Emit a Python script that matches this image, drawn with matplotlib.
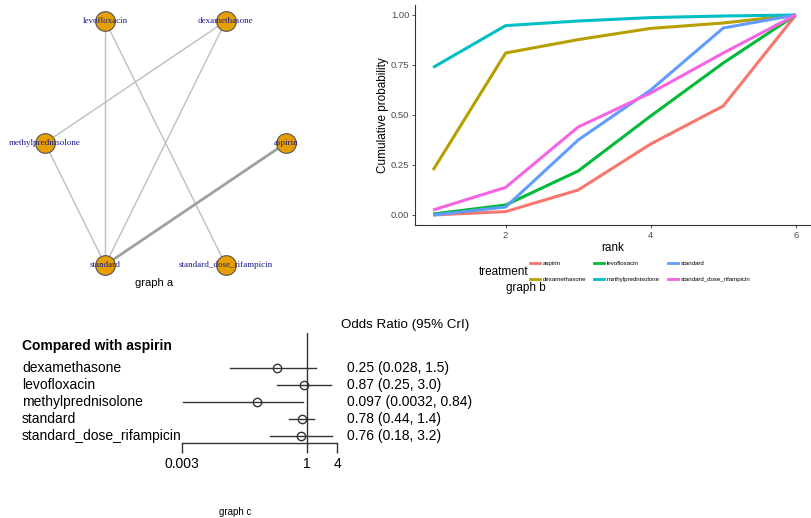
import numpy as np
import matplotlib
matplotlib.use('Agg')
import matplotlib.pyplot as plt
from matplotlib.lines import Line2D
from matplotlib.transforms import blended_transform_factory

plt.rcParams['font.family'] = ['Liberation Sans', 'DejaVu Sans']

# ---- データ ----
treatments = ['aspirin', 'dexamethasone', 'levofloxacin', 'methylprednisolone',
              'standard', 'standard_dose_rifampicin']
edges = [('levofloxacin', 'standard'), ('levofloxacin', 'standard_dose_rifampicin'),
         ('dexamethasone', 'methylprednisolone'), ('dexamethasone', 'standard'),
         ('methylprednisolone', 'standard'), ('aspirin', 'standard')]
edge_n = [1, 1, 1, 1, 1, 2]

ranks = [1, 2, 3, 4, 5, 6]
cum_aspirin = [0.00, 0.017, 0.125, 0.355, 0.545, 1.0]
cum_dexamethasone = [0.225, 0.81, 0.877, 0.933, 0.96, 1.0]
cum_levofloxacin = [0.005, 0.05, 0.22, 0.495, 0.76, 1.0]
cum_methylprednisolone = [0.738, 0.947, 0.97, 0.987, 0.995, 1.0]
cum_standard = [0.0, 0.04, 0.375, 0.625, 0.935, 1.0]
cum_sdr = [0.025, 0.138, 0.44, 0.61, 0.81, 1.0]
cum_probs = [cum_aspirin, cum_dexamethasone, cum_levofloxacin,
             cum_methylprednisolone, cum_standard, cum_sdr]
gg_colors = ['#F8766D', '#B79F00', '#00BA38', '#00BFC4', '#619CFF', '#F564E3']

comparators = ['dexamethasone', 'levofloxacin', 'methylprednisolone', 'standard',
               'standard_dose_rifampicin']
or_mean = [0.25, 0.87, 0.097, 0.78, 0.76]
or_low = [0.028, 0.25, 0.0032, 0.44, 0.18]
or_high = [1.5, 3.0, 0.84, 1.4, 3.2]
or_labels = ['0.25 (0.028, 1.5)', '0.87 (0.25, 3.0)', '0.097 (0.0032, 0.84)',
             '0.78 (0.44, 1.4)', '0.76 (0.18, 3.2)']
or_ticks = [0.003, 1, 4]
or_ticklabels = ['0.003', '1', '4']

W, H = 811, 518
fig = plt.figure(figsize=(W / 100, H / 100), dpi=100)


def fx(px):
    return px / W


def fy(py):
    return 1 - py / H


def axes_px(x0, y0, x1, y1):
    return fig.add_axes([fx(x0), fy(y1), fx(x1) - fx(x0), (y1 - y0) / H])


# ---- graph a : ネットワーク ----
ax_a = axes_px(45, 21, 286, 265)
ang = 2 * np.pi * np.arange(len(treatments)) / len(treatments)
px_ = np.cos(ang) / np.abs(np.cos(ang)).max()
py_ = np.sin(ang) / np.abs(np.sin(ang)).max()
pos = {t: (px_[i], py_[i]) for i, t in enumerate(treatments)}
for (a, b), n in zip(edges, edge_n):
    ax_a.plot([pos[a][0], pos[b][0]], [pos[a][1], pos[b][1]],
              color='#BEBEBE' if n == 1 else '#A0A0A0', lw=1.0 * n, zorder=1,
              clip_on=False)
ax_a.scatter(px_, py_, s=200, facecolor='#E69F00', edgecolor='#555555', lw=0.8,
             zorder=2, clip_on=False)
for t in treatments:
    ax_a.text(pos[t][0], pos[t][1], t, ha='center', va='center', color='#1a1a8c',
              fontsize=6.5, family=['Liberation Serif', 'DejaVu Serif'], zorder=3)
ax_a.set_xlim(-1, 1)
ax_a.set_ylim(-1, 1)
ax_a.axis('off')
fig.text(fx(154), fy(283), 'graph a', ha='center', va='center', fontsize=8)

# ---- graph b : 累積確率 ----
ax_b = axes_px(415, 5, 811, 225)
for t, y, c in zip(treatments, cum_probs, gg_colors):
    ax_b.plot(ranks, y, color=c, lw=2.2, label=t, solid_capstyle='butt')
ax_b.set_xlim(0.75, 6.21)
ax_b.set_ylim(-0.05, 1.05)
ax_b.set_xticks([2, 4, 6])
ax_b.set_yticks([0, 0.25, 0.5, 0.75, 1.0])
ax_b.set_yticklabels(['0.00', '0.25', '0.50', '0.75', '1.00'])
ax_b.tick_params(labelsize=6.8, labelcolor='#4D4D4D', length=2.5, width=0.6,
                 color='#333333', pad=1.5)
for s in ['top', 'right']:
    ax_b.spines[s].set_visible(False)
for s in ['left', 'bottom']:
    ax_b.spines[s].set_linewidth(0.8)
    ax_b.spines[s].set_color('#333333')
ax_b.set_xlabel('rank', fontsize=8.5, labelpad=2)
ax_b.set_ylabel('Cumulative probability', fontsize=8.5)
ax_b.yaxis.set_label_coords(-0.066, 0.5)
handles = [Line2D([], [], color=c, lw=2) for c in gg_colors]
fig.legend(handles, treatments, ncol=3, loc='upper left',
           bbox_to_anchor=(fx(530), fy(261)), frameon=False, fontsize=4.4,
           handlelength=1.6, handletextpad=0.5, columnspacing=1.3,
           labelspacing=1.7, borderpad=0, borderaxespad=0)
fig.text(fx(504), fy(272), 'treatment', ha='center', va='center', fontsize=8.5)
fig.text(fx(526), fy(288), 'graph b', ha='center', va='center', fontsize=8.5)

# ---- graph c : フォレストプロット ----
ax_c = axes_px(182, 333, 337, 443)
nrow = len(comparators)
rows = -np.arange(nrow)
for yv, m, lo, hi in zip(rows, or_mean, or_low, or_high):
    ax_c.plot([lo, hi], [yv, yv], color='#333333', lw=1.0, clip_on=False)
    ax_c.plot(m, yv, 'o', mfc='none', mec='#333333', ms=6, mew=1.0, clip_on=False)
ax_c.axvline(1, color='#333333', lw=1.0)
ax_c.set_xscale('log')
ax_c.set_xlim(or_ticks[0], or_ticks[-1])
ax_c.set_ylim(-4.41, 2.06)
ax_c.set_xticks(or_ticks)
ax_c.set_xticklabels(or_ticklabels)
ax_c.minorticks_off()
ax_c.tick_params(axis='x', labelsize=10, length=7, width=1.0, color='#333333', pad=3)
ax_c.set_yticks([])
for s in ['top', 'right', 'left']:
    ax_c.spines[s].set_visible(False)
ax_c.spines['bottom'].set_linewidth(1.0)
ax_c.spines['bottom'].set_color('#333333')

tr = blended_transform_factory(fig.transFigure, ax_c.transData)
fig.text(fx(22), fy(346), 'Compared with aspirin', ha='left', va='center',
         fontsize=10, fontweight='bold')
for yv, name, lab in zip(rows, comparators, or_labels):
    ax_c.text(fx(22), yv, name, transform=tr, ha='left', va='center', fontsize=10)
    ax_c.text(fx(347), yv, lab, transform=tr, ha='left', va='center', fontsize=10)
fig.text(fx(405), fy(325), 'Odds Ratio (95% CrI)', ha='center', va='center',
         fontsize=9.6)
fig.text(fx(235), fy(512), 'graph c', ha='center', va='center', fontsize=7)

fig.savefig('out.png', dpi=100)
